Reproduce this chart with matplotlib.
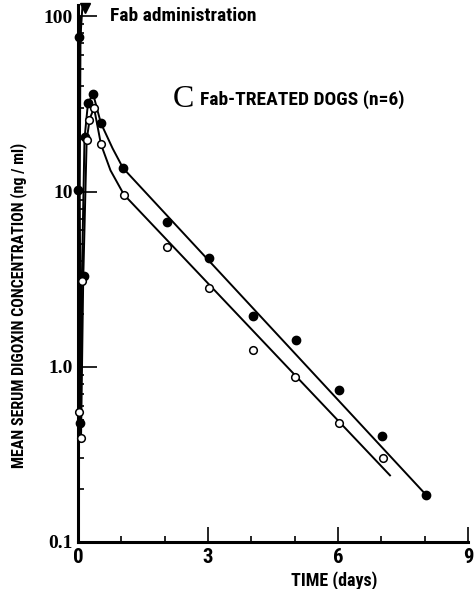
import matplotlib
matplotlib.use("Agg")
import matplotlib.pyplot as plt
from matplotlib.ticker import FixedLocator, NullFormatter
from matplotlib import font_manager

# measured points (days, ng/ml)
filled_t = [0.02, 0.0, 0.05, 0.14, 0.16, 0.23, 0.35, 0.53, 1.04, 2.05, 3.02, 4.04, 5.03, 6.02, 7.02, 8.03]
filled_v = [76, 10.2, 0.48, 3.3, 20.5, 32, 36, 24.5, 13.6, 6.7, 4.2, 1.95, 1.43, 0.74, 0.40, 0.186]

open_t = [0.03, 0.07, 0.10, 0.20, 0.25, 0.37, 0.53, 1.06, 2.05, 3.03, 4.04, 5.00, 6.02, 7.04]
open_v = [0.55, 0.39, 3.1, 19.6, 25.6, 30, 18.6, 9.6, 4.8, 2.8, 1.25, 0.87, 0.48, 0.30]

# hand drawn curves through the points
filled_curve_t = [0.10, 0.03, 0.0, 0.04, 0.09, 0.15, 0.23, 0.35, 0.45, 0.53, 0.80, 1.04, 8.03]
filled_curve_v = [112, 60, 10, 0.45, 3.3, 20, 32, 36, 29, 24.5, 17.6, 13.6, 0.186]

open_curve_t = [0.06, 0.04, 0.07, 0.12, 0.20, 0.27, 0.37, 0.53, 0.75, 1.06, 7.2]
open_curve_v = [100, 10, 0.39, 3.1, 19.6, 26, 30, 18.6, 13.2, 9.6, 0.24]

names = {f.name for f in font_manager.fontManager.ttflist}
narrow = [n for n in ("Liberation Sans Narrow", "Roboto Condensed", "Open Sans Condensed") if n in names]
cond = narrow + ["DejaVu Sans"]
serif = ["Liberation Serif", "DejaVu Serif"]
stretch = "condensed"

fig = plt.figure(figsize=(4.74, 5.89), dpi=100)
ax = fig.add_axes([78 / 474, 47 / 589, 390 / 474, 537 / 589])
ax.set_yscale("log")
ax.set_xlim(0, 9)
ax.set_ylim(0.1, 116)

ax.plot(filled_curve_t, filled_curve_v, color="black", lw=1.4, zorder=2)
ax.plot(open_curve_t, open_curve_v, color="black", lw=1.4, zorder=2)
ax.plot(filled_t, filled_v, "o", color="black", ms=6, zorder=3, clip_on=False)
ax.plot(open_t, open_v, "o", mfc="white", mec="black", mew=1.1, ms=5.5, zorder=4, clip_on=False)

for s in ["top", "right"]:
    ax.spines[s].set_visible(False)
for s in ["left", "bottom"]:
    ax.spines[s].set_linewidth(2.2)

ax.set_yticks([0.1, 1, 10, 100])
ax.set_yticklabels(["0.1", "1.0", "10", "100"], family=serif, weight="bold", fontsize=14)
ax.yaxis.set_minor_locator(FixedLocator([m * 10.0 ** e for e in (-1, 0, 1) for m in range(2, 10)]))
ax.yaxis.set_minor_formatter(NullFormatter())
ax.set_xticks([0, 3, 6, 9])
ax.set_xticklabels(["0", "3", "6", "9"], family=cond, stretch=stretch, weight="bold", fontsize=15)
ax.xaxis.set_minor_locator(FixedLocator([1, 2, 4, 5, 7, 8]))

ax.tick_params(axis="y", which="major", direction="in", length=14, width=1.2, pad=4)
ax.tick_params(axis="y", which="minor", direction="in", length=4, width=1.2)
ax.tick_params(axis="x", which="major", direction="in", length=11, width=1.2, pad=4)
ax.tick_params(axis="x", which="minor", direction="in", length=4, width=1.2)

ax.set_xlabel("TIME (days)", family=cond, stretch=stretch, weight="bold", fontsize=13)
ax.xaxis.set_label_coords(0.656, -0.055)
ax.set_ylabel("MEAN SERUM DIGOXIN CONCENTRATION (ng / ml)", family=cond, stretch=stretch,
              weight="bold", fontsize=11.5)
ax.yaxis.set_label_coords(-0.13, 0.44)

# Fab administration marker
ax.plot([0.17], [111], "v", color="black", ms=7, clip_on=False)
ax.text(0.74, 100, "Fab administration", family=cond, stretch=stretch, weight="bold",
        fontsize=14, va="center", ha="left")

ax.text(2.19, 33.4, "C", family=serif, fontsize=23, va="center", ha="left")
ax.text(2.82, 33.4, "Fab-TREATED DOGS (n=6)", family=cond, stretch=stretch, weight="bold",
        fontsize=14, va="center", ha="left")

fig.savefig("out.png", dpi=100)
